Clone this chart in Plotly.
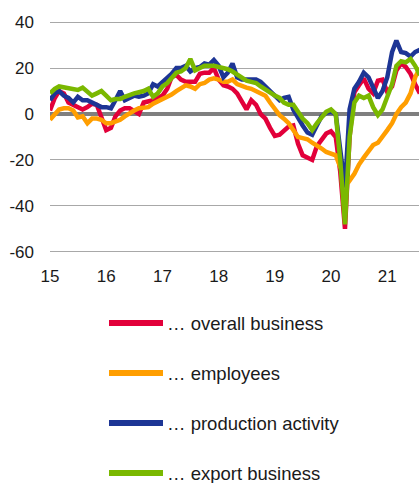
import pandas as pd
import plotly.graph_objects as go

months = pd.date_range("2015-01-01", periods=80, freq="MS")

overall_business = [
    1.5, 7, 10, 9, 5, 4, 3.5, 2, 3, 4.5, 4, -1,
    -7, -6, -1, 1.5, 2.5, 2.5, 1.5, 0, 5, 5.5, 6, 7,
    8, 11, 16, 17, 15, 14, 14, 14, 17.5, 18, 18, 20,
    15, 12.5, 12, 11, 9, 5, 2, 6, 4, 0, -2, -6,
    -9.5, -9, -7.5, -5.5, -5, -13, -18, -19, -20, -14, -11, -8.5,
    -7.5, -10, -25, -50, -10, 9.5, 12.5, 15.5, 11, 9, 14.5, 15,
    9.5, 12, 19, 22, 20.5, 17.5, 13, 9,
]
employees = [
    -2.5, 0, 2, 2.5, 2.5, 1.5, -1.5, -1, -4, -2, -2, -2.5,
    -4, -4, -3.5, -2.5, -1, 0.5, 1.5, 2.5, 3, 3, 4.5, 5.5,
    6, 7.5, 8.5, 10, 11, 12.5, 12, 11, 13, 13.5, 15, 15.5,
    15, 14, 14, 15, 13, 12, 11.5, 11, 10, 8.5, 8, 5,
    2, -0.5, -2, -4, -7, -10, -10.5, -11, -12.5, -13.5, -15, -16.5,
    -17, -18, -23, -26, -29, -26, -22, -19, -16, -13.5, -12.5, -10,
    -7, -4, 0, 3, 5, 9, 16, 20,
]
production_activity = [
    6, 9, 10, 8, 7, 5, 7.5, 6, 6, 5, 4, 3,
    3, 2.5, 6, 10, 6, 7, 8, 7.5, 8, 9, 13, 12,
    14, 15.5, 17.5, 20, 20, 21, 18.5, 20, 20.5, 22, 21.5, 23.5,
    21, 16, 18, 22, 16, 15, 15, 15, 15, 14, 12, 10,
    8, 6, 7, 7.5, 2, -2, -5, -8, -9, -5, -1, 0.5,
    1, 0, -15, -32, 2, 11, 14, 18, 16, 12, 7, 10,
    16, 27, 32, 27, 26.5, 25, 27, 28,
]
export_business = [
    9, 11, 12, 11.5, 11.5, 11, 10.5, 11.5, 10, 8, 9, 10,
    8, 6, 6.5, 6.5, 7.5, 8.5, 9, 9.5, 10, 11, 7.5, 9,
    12, 13.5, 16, 18, 18.5, 20, 24, 19, 20, 21, 21, 21,
    20.5, 20, 19.5, 18.5, 17, 15.5, 14.5, 14, 13.5, 12, 10.5, 9,
    8, 7, 5, 4, 4, 1, -2, -4, -7, -4, -1.5, 1,
    2, 0, -20, -48, -10, 5, 8, 7, 8, 3, -0.5, 2,
    7.5, 13, 21, 23, 22.5, 24, 21, 17,
]

series_names = ["… overall business", "… employees", "… production activity", "… export business"]
series_values = [overall_business, employees, production_activity, export_business]
series_colors = ["#e2003a", "#ff9e00", "#1d3595", "#7ab800"]

y_tick_vals = [-60, -40, -20, 0, 20, 40]
y_tick_text = ["-60", "-40", "-20", "0", "20", "40"]
x_tick_vals = ["2015-01-01", "2016-01-01", "2017-01-01", "2018-01-01",
               "2019-01-01", "2020-01-01", "2021-01-01"]
x_tick_text = ["15", "16", "17", "18", "19", "20", "21"]

W, H = 419, 483
ML, MR, MT, MB = 50, 0, 21, 230
plot_w = W - ML - MR
plot_h = H - MT - MB

def px_to_paper_x(px):
    return (px - ML) / plot_w

def px_to_paper_y(py):
    return (H - MB - py) / plot_h

fig = go.Figure()
for name, vals, col in zip(series_names, series_values, series_colors):
    fig.add_trace(go.Scatter(
        x=months, y=vals, mode="lines", name=name,
        line=dict(color=col, width=4.5),
        hoverinfo="skip", showlegend=False,
    ))

# manual legend (layout decoration)
shapes = []
annotations = []
leg_x0, leg_x1, leg_tx = 109, 163, 165
leg_y_first, leg_dy = 323, 50
for i, (name, col) in enumerate(zip(series_names, series_colors)):
    yy = px_to_paper_y(leg_y_first + leg_dy * i)
    shapes.append(dict(
        type="line", xref="paper", yref="paper",
        x0=px_to_paper_x(leg_x0), x1=px_to_paper_x(leg_x1), y0=yy, y1=yy,
        line=dict(color=col, width=6),
    ))
    annotations.append(dict(
        xref="paper", yref="paper", x=px_to_paper_x(leg_tx), y=yy,
        xanchor="left", yanchor="middle", showarrow=False,
        text=name, font=dict(size=18.5, color="#1a1a1a"),
    ))

font_family = "Arial, Liberation Sans, sans-serif"
fig.update_layout(
    width=W, height=H,
    margin=dict(l=ML, r=MR, t=MT, b=MB),
    paper_bgcolor="white", plot_bgcolor="white",
    font=dict(family=font_family, size=17, color="#1a1a1a"),
    showlegend=False,
    shapes=shapes, annotations=annotations,
    xaxis=dict(
        type="date", range=["2015-01-01", "2021-07-26"],
        showgrid=False, zeroline=False, showline=False,
        tickvals=x_tick_vals, ticktext=x_tick_text,
        ticks="", ticklabelstandoff=11,
        tickfont=dict(size=17, color="#1a1a1a"),
    ),
    yaxis=dict(
        range=[-60.5, 40.5],
        tickvals=y_tick_vals, ticktext=y_tick_text,
        showgrid=True, gridcolor="#a8a8a8", gridwidth=1,
        zeroline=True, zerolinecolor="#7f7f7f", zerolinewidth=4,
        showline=False, ticks="", ticklabelstandoff=15,
        tickfont=dict(size=17, color="#1a1a1a"),
    ),
)

fig.write_html("out.html", config={"displayModeBar": False},
               post_script="document.body.style.margin='0';document.body.style.overflow='hidden';")
